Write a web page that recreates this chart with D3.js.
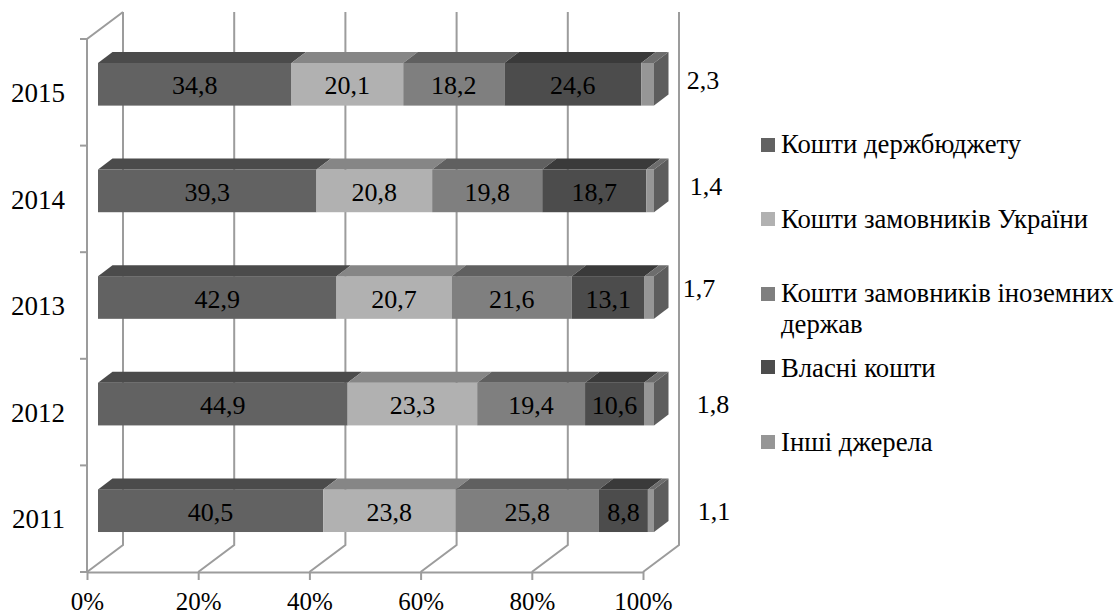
<!DOCTYPE html>
<meta charset="utf-8">
<style>
  html, body { margin: 0; padding: 0; background: #fff; }
  text { font-family: "Liberation Serif", serif; fill: #000; }
</style>
<script src="https://d3js.org/d3.v7.min.js"></script>

<div id="my_dataviz"></div>

<script>
// data
var years = ["2011", "2012", "2013", "2014", "2015"];
var seriesNames = ["Кошти держбюджету", "Кошти замовників України", "Кошти замовників іноземних держав", "Власні кошти", "Інші джерела"];
var budget   = [40.5, 44.9, 42.9, 39.3, 34.8];
var domestic = [23.8, 23.3, 20.7, 20.8, 20.1];
var foreign  = [25.8, 19.4, 21.6, 19.8, 18.2];
var own      = [8.8, 10.6, 13.1, 18.7, 24.6];
var other    = [1.1, 1.8, 1.7, 1.4, 2.3];
var xTicks = [0, 20, 40, 60, 80, 100];

// colours per series
var frontColors = ["#626262", "#b1b1b1", "#7f7f7f", "#4c4c4c", "#969696"];
var topColors = ["#4b4b4b", "#868686", "#606060", "#3a3a3a", "#6d6d6d"];
var sideColor = "#5d5d5d";
var gridColor = "#9c9c9c";

var svg = d3.select("#my_dataviz")
  .append("svg")
    .attr("width", 1119)
    .attr("height", 616)
    .style("display", "block");

// front plane of the 3d box
var x = d3.scaleLinear().domain([0, 100]).range([87, 643]);
var y = d3.scaleBand().domain(years).range([572, 39]);

var wall = {dx: 36, dy: -27};   // back wall offset
var bar = {dx: 11, dy: -8, depthX: 14.5, depthY: -11, height: y.bandwidth() * 0.4};

// back wall gridlines + floor diagonals
var grid = svg.append("g")
  .attr("fill", "none")
  .attr("stroke", gridColor)
  .attr("stroke-width", 2);

grid.selectAll("path")
  .data(xTicks)
  .enter().append("path")
    .attr("d", function(d) {
      return "M" + x(d) + "," + y.range()[0] +
             "L" + (x(d) + wall.dx) + "," + (y.range()[0] + wall.dy) +
             "L" + (x(d) + wall.dx) + "," + (y.range()[1] + wall.dy);
    });

// left wall top edge and vertical
grid.append("path")
  .attr("d", "M" + x(0) + "," + y.range()[0] + "L" + x(0) + "," + y.range()[1] +
             "L" + (x(0) + wall.dx) + "," + (y.range()[1] + wall.dy));

// category ticks sit on the band edges
var yEdges = years.map(function(d) { return y(d) + y.bandwidth(); }).concat([y.range()[1]]);
grid.selectAll("line.edge")
  .data(yEdges)
  .enter().append("line")
    .attr("class", "edge")
    .attr("x1", x(0) - 7)
    .attr("x2", x(0))
    .attr("y1", function(d) { return d; })
    .attr("y2", function(d) { return d; });

// X axis
var xAxis = svg.append("g")
  .attr("transform", "translate(0," + y.range()[0] + ")")
  .call(d3.axisBottom(x)
    .tickValues(xTicks)
    .tickSize(8)
    .tickPadding(12.7)
    .tickSizeOuter(0)
    .tickFormat(function(d) { return d + "%"; }));
xAxis.select(".domain").attr("stroke", gridColor).attr("stroke-width", 2);
xAxis.selectAll("line").attr("stroke", gridColor).attr("stroke-width", 2);
xAxis.selectAll("text").style("font-size", "25px").style("font-family", "Liberation Serif").attr("fill", "#000");

// Y axis (labels only)
var yAxis = svg.append("g")
  .attr("transform", "translate(" + x(0) + ",1)")
  .call(d3.axisLeft(y).tickSize(0).tickPadding(22));
yAxis.select(".domain").remove();
yAxis.selectAll("text").style("font-size", "27px").style("font-family", "Liberation Serif").attr("fill", "#000");

// stack the data
var table = years.map(function(year, i) {
  return {year: year, 0: budget[i], 1: domestic[i], 2: foreign[i], 3: own[i], 4: other[i]};
});
var stackedData = d3.stack()
  .keys([0, 1, 2, 3, 4])
  .offset(d3.stackOffsetExpand)(table);

var barTop = function(d) { return y(d.data.year) + y.bandwidth() / 2 + bar.dy - bar.height / 2; };
var barX = function(v) { return x(v * 100) + bar.dx; };

// bars, bottom to top
var barGroups = svg.append("g")
  .selectAll("g")
  .data(stackedData)
  .enter().append("g");

barGroups.selectAll("rect")
  .data(function(d) { return d; })
  .enter().append("rect")
    .attr("x", function(d) { return barX(d[0]); })
    .attr("y", barTop)
    .attr("width", function(d) { return barX(d[1]) - barX(d[0]); })
    .attr("height", bar.height)
    .attr("fill", function(d) { return frontColors[d3.select(this.parentNode).datum().key]; });

// top faces
barGroups.selectAll("polygon")
  .data(function(d) { return d; })
  .enter().append("polygon")
    .attr("points", function(d) {
      var t = barTop(d);
      return [[barX(d[0]), t], [barX(d[0]) + bar.depthX, t + bar.depthY],
              [barX(d[1]) + bar.depthX, t + bar.depthY], [barX(d[1]), t]].join(" ");
    })
    .attr("fill", function(d) { return topColors[d3.select(this.parentNode).datum().key]; });

// side face at 100%
svg.append("g")
  .selectAll("polygon")
  .data(table)
  .enter().append("polygon")
    .attr("fill", sideColor)
    .attr("points", function(d) {
      var t = barTop({data: d}), r = barX(1);
      return [[r, t], [r + bar.depthX, t + bar.depthY],
              [r + bar.depthX, t + bar.depthY + bar.height], [r, t + bar.height]].join(" ");
    });

// value labels for the first four series, centred on the segment
var labelValues = [budget, domestic, foreign, own];
labelValues.forEach(function(values, s) {
  svg.append("g")
    .selectAll("text")
    .data(stackedData[s])
    .enter().append("text")
      .attr("x", function(d) { return (barX(d[0]) + barX(d[1])) / 2; })
      .attr("y", function(d) { return barTop(d) + bar.height / 2 + 10; })
      .attr("text-anchor", "middle")
      .style("font-size", "26px")
      .text(function(d, i) { return String(values[i]).replace(".", ","); });
});

// the small "other" labels were moved by hand beside the bars
var otherLabelX = [714, 713, 699, 706, 703];
var otherLabelY = [520, 413, 297, 195, 89];
svg.append("g")
  .selectAll("text")
  .data(other)
  .enter().append("text")
    .attr("x", function(d, i) { return otherLabelX[i]; })
    .attr("y", function(d, i) { return otherLabelY[i]; })
    .attr("text-anchor", "middle")
    .style("font-size", "26px")
    .text(function(d) { return String(d).replace(".", ","); });

// legend
var legendSwatchY = [138, 212, 287, 360, 435];
var legendTextY = [153, 228, 302, 377, 451];
var legend = svg.append("g");
seriesNames.forEach(function(name, i) {
  legend.append("rect")
    .attr("x", 761)
    .attr("y", legendSwatchY[i])
    .attr("width", 14)
    .attr("height", 14)
    .attr("fill", frontColors[i]);
  var words = name === seriesNames[2] ? ["Кошти замовників іноземних", "держав"] : [name];
  words.forEach(function(line, j) {
    legend.append("text")
      .attr("x", 781)
      .attr("y", legendTextY[i] + j * 31)
      .style("font-size", "26.7px")
      .text(line);
  });
});
</script>
